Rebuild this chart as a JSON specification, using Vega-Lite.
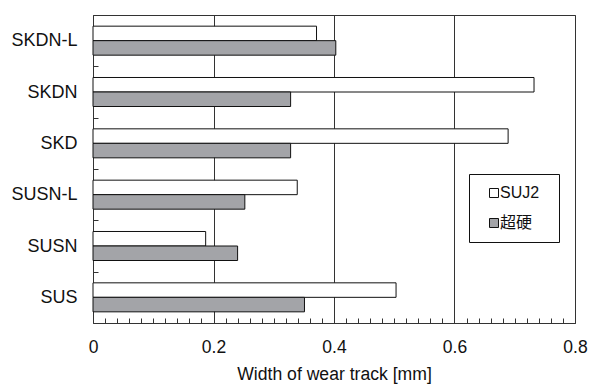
{
  "$schema": "https://vega.github.io/schema/vega-lite/v6.json",
  "autosize": "none",
  "padding": {"left": 93, "top": 15, "right": 17, "bottom": 62},
  "width": 482,
  "height": 308,
  "background": "white",
  "config": {
    "font": "Liberation Sans, Noto Sans CJK JP",
    "view": {"stroke": "#333333", "strokeWidth": 1}
  },
  "data": {
    "values": [
      {"material": "SKDN-L", "ball": "SUJ2", "width": 0.371},
      {"material": "SKDN-L", "ball": "超硬", "width": 0.403},
      {"material": "SKDN", "ball": "SUJ2", "width": 0.732},
      {"material": "SKDN", "ball": "超硬", "width": 0.328},
      {"material": "SKD", "ball": "SUJ2", "width": 0.689},
      {"material": "SKD", "ball": "超硬", "width": 0.328},
      {"material": "SUSN-L", "ball": "SUJ2", "width": 0.339},
      {"material": "SUSN-L", "ball": "超硬", "width": 0.252},
      {"material": "SUSN", "ball": "SUJ2", "width": 0.187},
      {"material": "SUSN", "ball": "超硬", "width": 0.240},
      {"material": "SUS", "ball": "SUJ2", "width": 0.503},
      {"material": "SUS", "ball": "超硬", "width": 0.351}
    ]
  },
  "mark": {"type": "bar", "stroke": "#111111", "strokeWidth": 1},
  "encoding": {
    "y": {
      "field": "material",
      "type": "nominal",
      "sort": ["SKDN-L", "SKDN", "SKD", "SUSN-L", "SUSN", "SUS"],
      "scale": {"paddingInner": 0.435, "paddingOuter": 0.2175},
      "axis": {
        "title": null,
        "domain": false,
        "grid": false,
        "bandPosition": 0.5,
        "tickOffset": -25.67,
        "labelOffset": 25.67,
        "tickSize": -5,
        "tickColor": "#333333",
        "labelPadding": 21,
        "labelFontSize": 18,
        "labelColor": "#111111"
      }
    },
    "yOffset": {
      "field": "ball",
      "type": "nominal",
      "sort": ["SUJ2", "超硬"],
      "scale": {"paddingInner": 0, "paddingOuter": 0}
    },
    "x": {
      "field": "width",
      "type": "quantitative",
      "scale": {"domain": [0, 0.8], "nice": false, "zero": true},
      "axis": {
        "title": "Width of wear track [mm]",
        "titleFontSize": 17.6,
        "titleFontWeight": "normal",
        "titleColor": "#111111",
        "titlePadding": 10,
        "domain": false,
        "values": [0, 0.02, 0.04, 0.06, 0.08, 0.1, 0.12, 0.14, 0.16, 0.18, 0.2, 0.22, 0.24, 0.26, 0.28, 0.3, 0.32, 0.34, 0.36, 0.38, 0.4, 0.42, 0.44, 0.46, 0.48, 0.5, 0.52, 0.54, 0.56, 0.58, 0.6, 0.62, 0.64, 0.66, 0.68, 0.7, 0.72, 0.74, 0.76, 0.78, 0.8],
        "labelExpr": "round(datum.value*50) % 10 == 0 ? format(datum.value, '~g') : ''",
        "labelFontSize": 17.5,
        "labelColor": "#111111",
        "labelPadding": 20,
        "labelFlush": false,
        "labelOverlap": false,
        "tickSize": -5,
        "tickColor": "#333333",
        "grid": true,
        "gridColor": "#333333",
        "gridWidth": 1,
        "gridOpacity": {"condition": {"test": "round(datum.value*50) % 10 == 0", "value": 1}, "value": 0}
      }
    },
    "fill": {
      "field": "ball",
      "type": "nominal",
      "sort": ["SUJ2", "超硬"],
      "scale": {"domain": ["SUJ2", "超硬"], "range": ["#ffffff", "#a3a4a8"]},
      "legend": {
        "title": " ",
        "titleOrient": "right",
        "titleFontSize": 1,
        "titlePadding": 9,
        "orient": "none",
        "legendX": 376,
        "legendY": 159,
        "strokeColor": "#111111",
        "fillColor": "#ffffff",
        "padding": 11,
        "rowPadding": 14,
        "symbolType": "square",
        "symbolSize": 81,
        "symbolStrokeColor": "#111111",
        "symbolStrokeWidth": 1,
        "symbolOffset": 6,
        "labelOffset": -2,
        "labelFontSize": 16,
        "labelColor": "#111111"
      }
    }
  }
}
